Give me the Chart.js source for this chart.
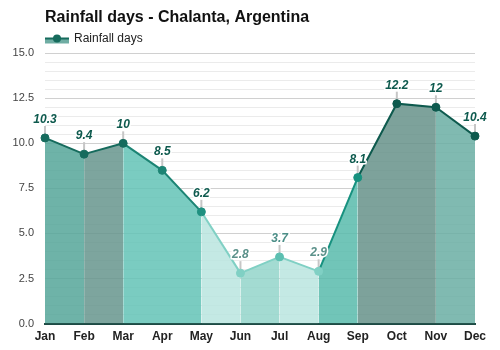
<!DOCTYPE html>
<html>
<head>
<meta charset="utf-8">
<script src="https://cdn.jsdelivr.net/npm/chart.js@4/dist/chart.umd.min.js"></script>
<style>
  html, body { margin: 0; padding: 0; background: #fff; }
  #wrap { width: 500px; height: 350px; position: relative; }
</style>
</head>
<body>
<div id="wrap"><canvas id="chart"></canvas></div>
<script>
// --- data ---
const months = ['Jan', 'Feb', 'Mar', 'Apr', 'May', 'Jun', 'Jul', 'Aug', 'Sep', 'Oct', 'Nov', 'Dec'];
const rainfallDays = [10.3, 9.4, 10, 8.5, 6.2, 2.8, 3.7, 2.9, 8.1, 12.2, 12, 10.4];
const yTickLabels = ['0.0', '2.5', '5.0', '7.5', '10.0', '12.5', '15.0'];

// --- styles (per month / per segment) ---
const fillColors = ['#55a699d9', '#66958dd9', '#63c3b6d9', '#63c3b6d9', '#bae5dfd9', '#93d5cad9',
                    '#bae5dfd9', '#58bbacd9', '#66928ad9', '#66928ad9', '#6aaea3d9'];
const lineColors = ['#166b5d', '#166b5d', '#1c8474', '#1c8474', '#80d0c4', '#80d0c4',
                    '#80d0c4', '#17917f', '#0e5a4e', '#0e5a4e', '#0e5a4e'];
const pointColors = ['#166b5d', '#166b5d', '#166b5d', '#1c8474', '#1f9080', '#80d0c4',
                     '#5cbfb1', '#80d0c4', '#17917f', '#0e5a4e', '#0e5a4e', '#0e5a4e'];
const labelColors = ['#0e5a4e', '#0e5a4e', '#0e5a4e', '#0e5a4e', '#0e5a4e', '#5b918a',
                     '#4d8f88', '#5b918a', '#0e5a4e', '#0e5a4e', '#0e5a4e', '#0e5a4e'];

Chart.defaults.font.family = 'Arial, "Liberation Sans", sans-serif';

// small grey ticks under the labels, then the value labels on top
const pointLabels = {
    id: 'pointLabels',
    beforeDatasetsDraw(chart) {
        const ctx = chart.ctx;
        ctx.save();
        ctx.strokeStyle = '#c6c6c6';
        ctx.lineWidth = 2;
        chart.getDatasetMeta(0).data.forEach(pt => {
            ctx.beginPath();
            ctx.moveTo(pt.x, pt.y - 3);
            ctx.lineTo(pt.x, pt.y - 12);
            ctx.stroke();
        });
        ctx.restore();
    },
    afterDatasetsDraw(chart) {
        const ctx = chart.ctx;
        ctx.save();
        ctx.font = 'italic bold 12px Arial, "Liberation Sans", sans-serif';
        ctx.textAlign = 'center';
        ctx.textBaseline = 'alphabetic';
        ctx.lineJoin = 'round';
        chart.getDatasetMeta(0).data.forEach((pt, i) => {
            const txt = String(rainfallDays[i]);
            ctx.lineWidth = 3;
            ctx.strokeStyle = '#ffffff';
            ctx.strokeText(txt, pt.x, pt.y - 15);
            ctx.fillStyle = labelColors[i];
            ctx.fillText(txt, pt.x, pt.y - 15);
        });
        ctx.restore();
    }
};

// legend: area swatch with line and dot, like the series
const areaLegend = {
    id: 'areaLegend',
    afterDraw(chart) {
        const ctx = chart.ctx;
        const x = chart.chartArea.left;
        const y = 38.5;
        ctx.save();
        ctx.fillStyle = '#6fada3';
        ctx.fillRect(x, y, 24, 5);
        ctx.strokeStyle = '#166b5d';
        ctx.lineWidth = 2;
        ctx.beginPath();
        ctx.moveTo(x, y);
        ctx.lineTo(x + 24, y);
        ctx.stroke();
        ctx.fillStyle = '#166b5d';
        ctx.beginPath();
        ctx.arc(x + 12, y, 4, 0, Math.PI * 2);
        ctx.fill();
        ctx.font = '12px Arial, "Liberation Sans", sans-serif';
        ctx.fillStyle = '#222';
        ctx.textBaseline = 'middle';
        ctx.fillText('Rainfall days', x + 29, y);
        ctx.restore();
    }
};

const isMajor = v => Math.abs(v / 2.5 - Math.round(v / 2.5)) < 1e-6;

new Chart(document.getElementById('chart'), {
    type: 'line',
    data: {
        labels: months,
        datasets: [{
            label: 'Rainfall days',
            data: rainfallDays,
            fill: 'origin',
            backgroundColor: fillColors[0],
            borderColor: lineColors[0],
            borderWidth: 2,
            tension: 0,
            pointRadius: 4,
            pointBorderWidth: 1,
            pointBackgroundColor: pointColors,
            pointBorderColor: pointColors,
            clip: false,
            segment: {
                borderColor: c => lineColors[c.p0DataIndex],
                backgroundColor: c => fillColors[c.p0DataIndex]
            }
        }]
    },
    options: {
        responsive: true,
        maintainAspectRatio: false,
        animation: false,
        events: [],
        layout: { padding: { left: 5, right: 25, top: 0, bottom: 0 } },
        plugins: {
            legend: { display: false },
            tooltip: { enabled: false },
            title: {
                display: true,
                text: 'Rainfall days - Chalanta, Argentina',
                align: 'start',
                fullSize: false,
                color: '#111',
                font: { size: 16, weight: 'bold' },
                padding: { top: 8, bottom: 26 }
            }
        },
        scales: {
            x: {
                offset: false,
                grid: { display: false, drawTicks: false },
                border: { display: true, color: '#1d4a44', width: 2 },
                ticks: {
                    color: '#222',
                    padding: 6,
                    maxRotation: 0,
                    font: { size: 12, weight: 'bold' }
                }
            },
            y: {
                min: 0,
                max: 15,
                afterFit: scale => { scale.width = 40; },
                border: { display: false },
                grid: {
                    drawTicks: false,
                    color: c => isMajor(c.tick.value) ? '#d0d0d0' : '#ebebeb'
                },
                ticks: {
                    stepSize: 0.5,
                    autoSkip: false,
                    padding: 11,
                    color: '#444',
                    font: { size: 11 },
                    callback: v => isMajor(v) ? yTickLabels[Math.round(v / 2.5)] : ''
                }
            }
        }
    },
    plugins: [pointLabels, areaLegend]
});
</script>
</body>
</html>
